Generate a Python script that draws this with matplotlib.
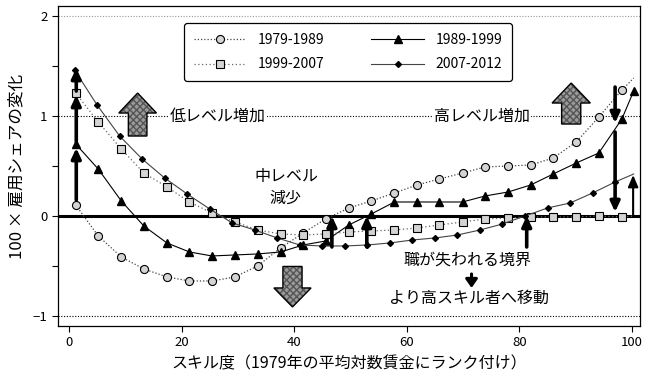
import numpy as np
import matplotlib
matplotlib.use("Agg")
import matplotlib.pyplot as plt
from matplotlib.patches import FancyArrow

plt.rcParams["font.family"] = ["Noto Sans CJK JP", "DejaVu Sans"]
plt.rcParams["axes.unicode_minus"] = False

# ── Data ─────────────────────────────────────────────────────────────────────
X_MAIN = [1.2, 5.2, 9.3, 13.3, 17.4, 21.4, 25.4, 29.5, 33.5, 37.6, 41.6, 45.6,
          49.7, 53.7, 57.8, 61.8, 65.8, 69.9, 73.9, 78.0, 82.0, 86.0, 90.1,
          94.1, 98.2, 100.3]
X_DIA = [1, 5, 9, 13, 17, 21, 25, 29, 33, 37, 41, 45, 49, 53, 57, 61, 65, 69,
         73, 77, 81, 85, 89, 93, 97, 100.3]

# last value of each list = end of the fitted line at the right border
Y_7989 = [0.11, -0.20, -0.41, -0.53, -0.61, -0.65, -0.65, -0.61, -0.50, -0.32,
          -0.17, -0.03, 0.08, 0.15, 0.23, 0.31, 0.37, 0.43, 0.49, 0.50, 0.51,
          0.58, 0.74, 0.99, 1.26, 1.38]
Y_8999 = [0.72, 0.47, 0.15, -0.10, -0.27, -0.36, -0.40, -0.39, -0.38, -0.36,
          -0.29, -0.25, -0.09, 0.02, 0.14, 0.14, 0.14, 0.14, 0.20, 0.24, 0.31,
          0.42, 0.53, 0.63, 0.97, 1.25]
Y_9907 = [1.23, 0.94, 0.67, 0.43, 0.29, 0.14, 0.03, -0.06, -0.14, -0.18,
          -0.19, -0.18, -0.16, -0.15, -0.14, -0.12, -0.09, -0.06, -0.03, -0.02,
          -0.01, -0.01, -0.01, 0.00, -0.01, 0.00]
Y_0712 = [1.46, 1.11, 0.80, 0.57, 0.38, 0.22, 0.07, -0.07, -0.14, -0.22,
          -0.29, -0.30, -0.30, -0.29, -0.27, -0.24, -0.22, -0.19, -0.14, -0.08,
          0.00, 0.08, 0.13, 0.23, 0.34, 0.42]

LABELS = ["1979-1989", "1989-1999", "1999-2007", "2007-2012"]

# period-to-period arrows: (x, tail, tip)
ARROWS = [(1.3, 0.16, 0.68), (1.3, 0.74, 1.21), (1.3, 1.25, 1.48),
          (46.7, -0.31, 0.0), (52.9, -0.31, 0.0), (81.3, -0.31, 0.0),
          (97.0, 1.29, 0.93), (97.0, 0.84, 0.04)]

# ── Figure ───────────────────────────────────────────────────────────────────
fig = plt.figure(figsize=(6.47, 3.79), dpi=100, facecolor="white")
ax = fig.add_axes([0.0896, 0.140, 0.8994, 0.844])

ax.axhline(2, color="#999999", lw=0.8, ls=(0, (1, 1.5)), zorder=1)
ax.axhline(1, color="black", lw=0.8, ls=(0, (1, 1.5)), zorder=1)
ax.axhline(-1, color="black", lw=0.8, ls=(0, (1, 1.5)), zorder=1)
ax.axhline(0, color="black", lw=2.2, zorder=2)

ms_open = dict(markeredgecolor="black", markeredgewidth=0.8,
               markerfacecolor="#d4d4d4")
n = len(X_MAIN) - 1
l1, = ax.plot(X_MAIN, Y_7989, ls=(0, (1, 1.6)), color="#444444", lw=0.9,
              marker="o", ms=5.8, markevery=list(range(n)), label=LABELS[0],
              zorder=4, **ms_open)
l2, = ax.plot(X_MAIN, Y_8999, ls="-", color="black", lw=0.8,
              marker="^", ms=5.3, markerfacecolor="black",
              markeredgecolor="black", label=LABELS[1], zorder=4)
l3, = ax.plot(X_MAIN, Y_9907, ls=(0, (1, 2)), color="#666666", lw=0.9,
              marker="s", ms=5.6, markevery=list(range(n)), label=LABELS[2],
              zorder=4, **ms_open)
l4, = ax.plot(X_DIA, Y_0712, ls="-", color="#444444", lw=0.8,
              marker="D", ms=3.0, markerfacecolor="black",
              markeredgecolor="black", markevery=list(range(n)),
              label=LABELS[3], zorder=4)

# thick black arrows between periods
for x, tail, tip in ARROWS:
    ax.annotate("", xy=(x, tip), xytext=(x, tail), zorder=6,
                arrowprops=dict(arrowstyle="-|>,head_length=0.6,head_width=0.28",
                                lw=2.6, color="black", shrinkA=0, shrinkB=0))
ax.annotate("", xy=(100.2, 0.41), xytext=(100.2, 0.0), zorder=6,
            arrowprops=dict(arrowstyle="-|>,head_length=0.7,head_width=0.3",
                            lw=1.5, color="black", shrinkA=0, shrinkB=0))


# big hatched block arrows
def block_arrow(xc, y0, dy, w, hw, hl):
    for fill in (True, False):
        a = FancyArrow(xc, y0, 0, dy, width=w, head_width=hw, head_length=hl,
                       length_includes_head=True, zorder=5,
                       facecolor="#9a9a9a" if fill else "none",
                       edgecolor="#555555" if fill else "black",
                       hatch="xxxxx" if fill else None,
                       lw=0 if fill else 1.0)
        ax.add_patch(a)


block_arrow(12.2, 0.80, 0.43, 3.3, 6.7, 0.20)
block_arrow(89.2, 0.92, 0.41, 3.4, 6.8, 0.20)
block_arrow(39.7, -0.505, -0.405, 3.4, 6.6, 0.19)

# text labels
tkw = dict(fontsize=11.5, color="black", zorder=7)
ax.text(17.9, 1.0, "低レベル増加", ha="left", va="center",
        bbox=dict(facecolor="white", edgecolor="none", pad=1), **tkw)
ax.text(73.3, 1.0, "高レベル増加", ha="center", va="center",
        bbox=dict(facecolor="white", edgecolor="none", pad=1), **tkw)
ax.text(38.7, 0.39, "中レベル", ha="center", va="center", **tkw)
ax.text(38.5, 0.18, "減少", ha="center", va="center", **tkw)
ax.text(70.8, -0.44, "職が失われる境界", ha="center", va="center", **tkw)
ax.annotate("", xy=(71.5, -0.72), xytext=(71.5, -0.58),
            arrowprops=dict(arrowstyle="-|>,head_length=0.5,head_width=0.35",
                            lw=2.2, color="black", shrinkA=0, shrinkB=0))
ax.text(71.0, -0.82, "より高スキル者へ移動", ha="center", va="center", **tkw)

# legend
leg = ax.legend(handles=[l1, l3, l2, l4], ncol=2, loc="upper left",
                bbox_to_anchor=(0.2045, 0.968), fontsize=10, frameon=True,
                fancybox=True, edgecolor="black", handlelength=3.8,
                columnspacing=3.4, borderpad=0.7, labelspacing=0.75,
                handletextpad=0.8, framealpha=1)
leg.get_frame().set_linewidth(0.9)
leg.set_zorder(8)

ax.set_xlim(-1.95, 101.4)
ax.set_ylim(-1.10, 2.10)
ax.set_xticks([0, 20, 40, 60, 80, 100])
ax.set_yticks([2, 1, 0, -1])
ax.set_yticklabels(["2", "1", "0", "\u22121"])
ax.set_yticks([1.5, 0.5, -0.5], minor=True)
ax.tick_params(axis="both", which="both", direction="out", length=4,
               width=0.8, labelsize=9.5)
for s in ax.spines.values():
    s.set_linewidth(0.9)

ax.set_xlabel("スキル度（1979年の平均対数賃金にランク付け）", fontsize=11.5,
              labelpad=4)
ax.set_ylabel("100 × 雇用シェアの変化", fontsize=12, labelpad=5)

fig.savefig("out.png", dpi=100, facecolor="white")
